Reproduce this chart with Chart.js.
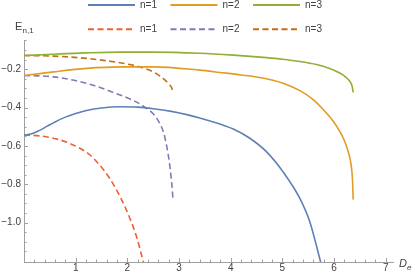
<!DOCTYPE html>
<html>
<head>
<meta charset="utf-8">
<script src="https://cdn.jsdelivr.net/npm/chart.js@4"></script>
<style>
html, body { margin: 0; padding: 0; background: #fff; }
</style>
</head>
<body>
<canvas id="chart" width="415" height="274"></canvas>
<script>
// values
const labels = ["n=1", "n=2", "n=3", "n=1", "n=2", "n=3"];

const solid1X = [0, 0.15, 0.30, 0.45, 0.60, 0.80, 1.00, 1.21, 1.50, 1.86, 2.20, 2.50, 2.85, 3.15, 3.40, 3.79, 4.05, 4.37, 4.69, 5.02, 5.34, 5.53, 5.74];
const solid1Y = [-0.543, -0.537, -0.519, -0.497, -0.475, -0.450, -0.431, -0.415, -0.402, -0.396, -0.398, -0.406, -0.420, -0.437, -0.454, -0.486, -0.512, -0.560, -0.630, -0.738, -0.875, -0.995, -1.205];

const solid2X = [0, 0.57, 1.21, 1.86, 2.50, 3.40, 3.79, 4.20, 4.69, 5.00, 5.34, 5.60, 5.79, 5.98, 6.10, 6.18, 6.25, 6.29, 6.33, 6.355, 6.37];
const solid2Y = [-0.233, -0.214, -0.196, -0.188, -0.188, -0.205, -0.217, -0.230, -0.250, -0.272, -0.312, -0.360, -0.410, -0.470, -0.520, -0.560, -0.610, -0.645, -0.700, -0.770, -0.880];

const solid3X = [0, 0.57, 1.21, 1.86, 2.50, 3.40, 4.05, 4.69, 5.00, 5.34, 5.66, 5.90, 6.11, 6.22, 6.30, 6.345, 6.37];
const solid3Y = [-0.129, -0.122, -0.115, -0.111, -0.111, -0.117, -0.127, -0.140, -0.148, -0.160, -0.176, -0.195, -0.220, -0.240, -0.262, -0.285, -0.321];

const dash1X = [0, 0.31, 0.70, 1.08, 1.27, 1.47, 1.66, 1.86, 2.05, 2.18, 2.31];
const dash1Y = [-0.543, -0.548, -0.569, -0.612, -0.646, -0.702, -0.770, -0.865, -0.978, -1.075, -1.205];

const dash2X = [0, 0.57, 1.21, 1.86, 2.18, 2.40, 2.50, 2.60, 2.70, 2.76, 2.81, 2.845, 2.87, 2.88];
const dash2Y = [-0.233, -0.240, -0.274, -0.335, -0.372, -0.410, -0.432, -0.470, -0.530, -0.600, -0.680, -0.760, -0.830, -0.872];

const dash3X = [0, 0.57, 1.21, 1.86, 2.24, 2.50, 2.69, 2.82, 2.86, 2.88];
const dash3Y = [-0.129, -0.132, -0.144, -0.167, -0.188, -0.214, -0.248, -0.283, -0.298, -0.321];

const xTicks = [1, 2, 3, 4, 5, 6, 7];
const yTicks = [-1.0, -0.8, -0.6, -0.4, -0.2];

const colors = ["#5E81B5", "#E19C24", "#8FB032", "#EB6235", "#8778B3", "#C56E1A"];
const axisColor = "#a0a0a0";
const textColor = "#404040";
const font = "'Liberation Sans', Arial, sans-serif";

function pts(xs, ys) {
  return xs.map((x, i) => ({ x: x, y: ys[i] }));
}

const series = [
  pts(solid1X, solid1Y), pts(solid2X, solid2Y), pts(solid3X, solid3Y),
  pts(dash1X, dash1Y), pts(dash2X, dash2Y), pts(dash3X, dash3Y)
];

const datasets = series.map((data, i) => ({
  label: labels[i],
  data: data,
  borderColor: colors[i],
  borderWidth: 1.6,
  borderDash: i >= 3 ? [6, 3.5] : [],
  pointRadius: 0,
  fill: false,
  cubicInterpolationMode: "monotone"
}));

// Mathematica-like extras: inward ticks, legend, axis titles
const extras = {
  id: "extras",
  afterDatasetsDraw(chart) {
    const ctx = chart.ctx;
    const xs = chart.scales.x, ys = chart.scales.y;
    const area = chart.chartArea;
    ctx.save();
    ctx.strokeStyle = axisColor;
    ctx.lineWidth = 1;
    ctx.beginPath();
    for (let i = 1; i <= 35; i++) {
      const px = Math.round(xs.getPixelForValue(i * 0.2)) + 0.5;
      const len = i % 5 === 0 ? 4 : 2.5;
      ctx.moveTo(px, area.bottom);
      ctx.lineTo(px, area.bottom - len);
    }
    for (let i = 1; i <= 23; i++) {
      const py = Math.round(ys.getPixelForValue(-1.2 + i * 0.05)) + 0.5;
      const len = i % 4 === 0 ? 4 : 2.5;
      ctx.moveTo(area.left, py);
      ctx.lineTo(area.left + len, py);
    }
    ctx.stroke();

    // legend in two rows of three
    ctx.font = "10px " + font;
    ctx.textBaseline = "middle";
    chart.data.datasets.forEach((ds, i) => {
      const x = 88 + (i % 3) * 82.5;
      const y = 5 + Math.floor(i / 3) * 24.3;
      ctx.strokeStyle = ds.borderColor;
      ctx.lineWidth = 2;
      ctx.setLineDash(ds.borderDash);
      ctx.beginPath();
      ctx.moveTo(x, y);
      ctx.lineTo(x + 47, y);
      ctx.stroke();
      ctx.setLineDash([]);
      ctx.fillStyle = textColor;
      ctx.fillText(ds.label, x + 52, y);
    });

    // axis titles
    ctx.fillStyle = textColor;
    ctx.textBaseline = "alphabetic";
    ctx.font = "11px " + font;
    ctx.fillText("E", 15, 30);
    ctx.font = "8px " + font;
    ctx.fillText("n,1", 22.5, 33);
    ctx.font = "italic 11px " + font;
    ctx.fillText("D", 399, 267);
    ctx.font = "italic 8px " + font;
    ctx.fillText("e", 407, 270);
    ctx.restore();
  }
};

new Chart(document.getElementById("chart"), {
  type: "line",
  data: { datasets: datasets },
  plugins: [extras],
  options: {
    responsive: false,
    animation: false,
    layout: { padding: { top: 40, right: 22, left: 0, bottom: 0 } },
    plugins: {
      legend: { display: false },
      tooltip: { enabled: false }
    },
    scales: {
      x: {
        type: "linear",
        min: 0,
        max: 7.14,
        afterBuildTicks: scale => { scale.ticks = xTicks.map(v => ({ value: v })); },
        afterFit: scale => { scale.height = 12; },
        grid: { display: false, drawTicks: false },
        border: { display: true, color: axisColor, width: 1 },
        ticks: {
          padding: 0,
          maxRotation: 0,
          color: textColor,
          font: { family: font, size: 10 },
          callback: v => String(v)
        }
      },
      y: {
        type: "linear",
        min: -1.205,
        max: -0.048,
        afterBuildTicks: scale => { scale.ticks = yTicks.map(v => ({ value: v })); },
        afterFit: scale => { scale.width = 24; },
        grid: { display: false, drawTicks: false },
        border: { display: true, color: axisColor, width: 1 },
        ticks: {
          padding: 3,
          color: textColor,
          font: { family: font, size: 10 },
          callback: v => "\u2212" + Math.abs(v).toFixed(1)
        }
      }
    }
  }
});
</script>
</body>
</html>
